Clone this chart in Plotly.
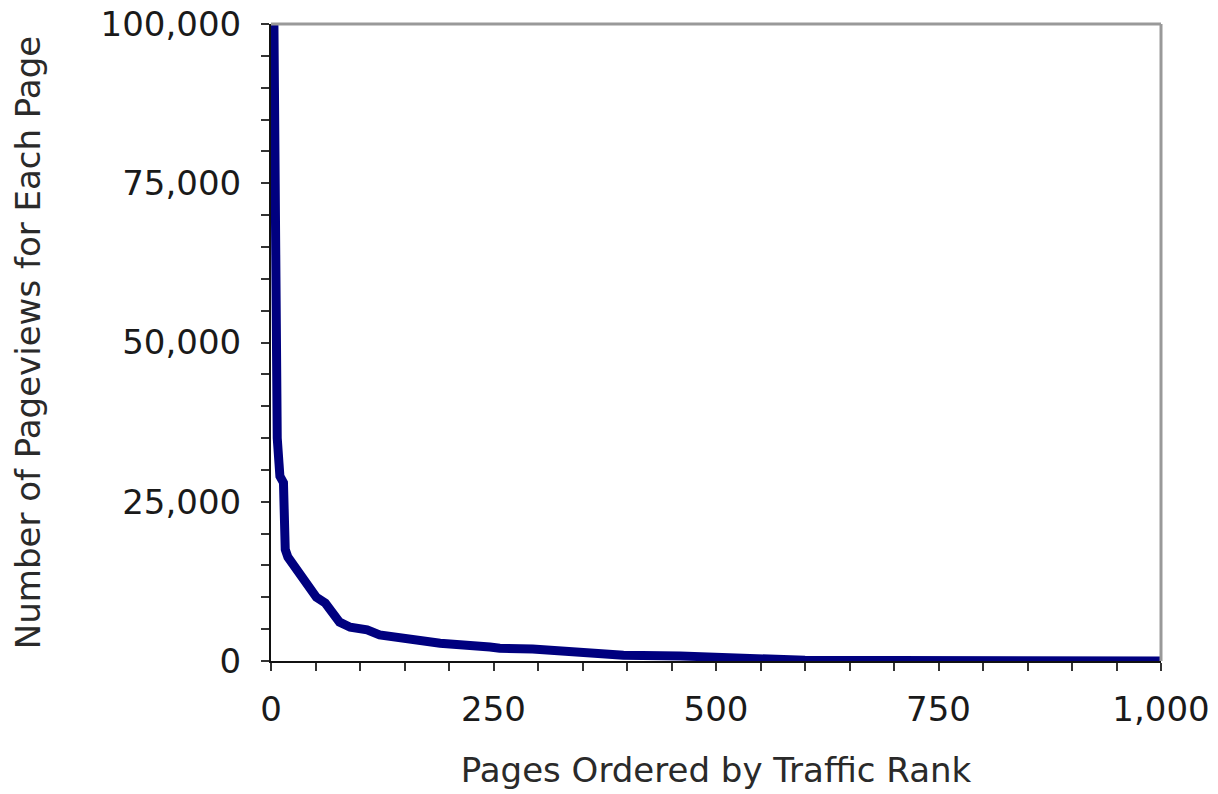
import plotly.graph_objects as go

# Pages ordered by traffic rank and their pageviews
ranks = [1, 3, 4, 5, 6, 7, 9, 10, 14, 16, 19, 25, 30, 40, 51, 61, 70, 77, 89,
         108, 122, 145, 190, 246, 257, 294, 317, 351, 396, 460, 504, 542, 560,
         600, 700, 800, 900, 1000]
pageviews = [140000, 100000, 70000, 47000, 40000, 35000, 31000, 29000, 28000,
             17500, 16300, 15200, 14300, 11900, 10000, 9100, 7200, 6100, 5300,
             4900, 4100, 3600, 2800, 2200, 2000, 1900, 1700, 1300, 900, 800,
             600, 300, 150, 100, 60, 40, 25, 15]

x_tickvals = [0, 250, 500, 750, 1000]
x_ticktext = ["0", "250", "500", "750", "1,000"]
y_tickvals = [0, 25000, 50000, 75000, 100000]
y_ticktext = ["0", "25,000", "50,000", "75,000", "100,000"]

x_title = "Pages Ordered by Traffic Rank"
y_title = "Number of Pageviews for Each Page"

FONT = "DejaVu Sans"
TXT = "#1a1a1a"
TTL = "#2a2a2a"

fig = go.Figure()
fig.add_trace(go.Scatter(
    x=ranks, y=pageviews, mode="lines",
    line=dict(color="#00007f", width=9),
    showlegend=False, hoverinfo="x+y",
))

fig.update_layout(
    width=1218, height=794,
    margin=dict(l=271, r=57, t=24, b=133, autoexpand=False),
    paper_bgcolor="white", plot_bgcolor="white",
    font=dict(family=FONT, color=TXT, size=34),
    shapes=[
        dict(type="line", xref="paper", yref="paper", x0=0, x1=1, y0=1, y1=1,
             line=dict(color="#999999", width=3)),
        dict(type="line", xref="paper", yref="paper", x0=1, x1=1, y0=0, y1=1,
             line=dict(color="#999999", width=3)),
    ],
)

fig.update_xaxes(
    range=[0, 1000], tickvals=x_tickvals, ticktext=x_ticktext,
    automargin=False,
    showgrid=False, zeroline=False,
    showline=True, linecolor="#111111", linewidth=2,
    ticks="outside", ticklen=8, tickwidth=2, tickcolor="#333333",
    minor=dict(dtick=50, ticks="outside", ticklen=8, tickwidth=2, tickcolor="#333333", showgrid=False),
    tickfont=dict(size=34, family=FONT, color=TXT),
    ticklabelstandoff=9, ticklabeloverflow="allow",
    title=dict(text=x_title, font=dict(size=34, family=FONT, color=TTL), standoff=30),
)
fig.update_yaxes(
    range=[0, 100000], tickvals=y_tickvals, ticktext=y_ticktext,
    automargin=False,
    showgrid=False, zeroline=False,
    showline=True, linecolor="#111111", linewidth=2,
    ticks="outside", ticklen=8, tickwidth=2, tickcolor="#333333",
    minor=dict(dtick=5000, ticks="outside", ticklen=8, tickwidth=2, tickcolor="#333333", showgrid=False),
    tickfont=dict(size=34, family=FONT, color=TXT),
    ticklabelstandoff=13, ticklabeloverflow="allow",
    title=dict(text=y_title, font=dict(size=34, family=FONT, color=TTL), standoff=50),
)

fig.write_html(
    "out.html",
    config={"displayModeBar": False},
    post_script="document.body.style.margin='0';document.body.style.overflow='hidden';",
)
